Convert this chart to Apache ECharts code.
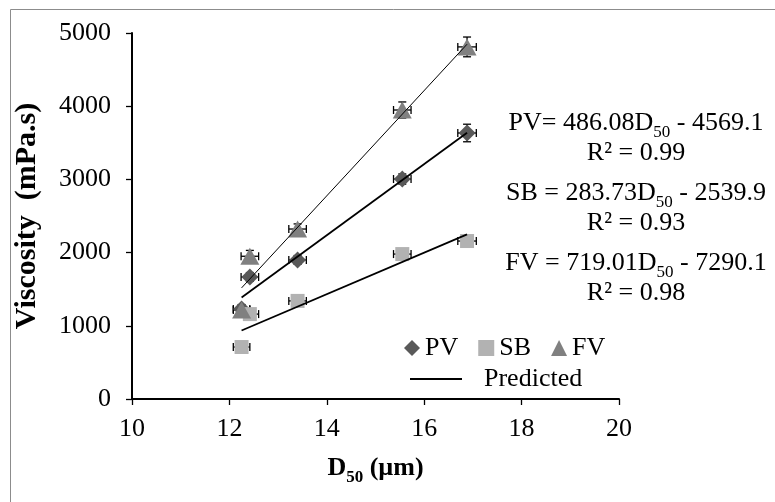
<!DOCTYPE html>
<html>
<head>
<meta charset="utf-8">
<script src="https://cdn.jsdelivr.net/npm/echarts@6/dist/echarts.min.js"></script>
<style>
  html, body { margin: 0; padding: 0; background: #fff; }
  #main { width: 775px; height: 502px; }
</style>
</head>
<body>
<div id="main"></div>
<script>
// 数据
var xVals = [12.25, 12.42, 13.4, 15.55, 16.88];
var pvVals = [1230, 1667, 1900, 3005, 3634];
var sbVals = [710, 1160, 1340, 1980, 2158];
var fvVals = [1216, 1950, 2322, 3948, 4810];
var xErr = [0.17, 0.18, 0.18, 0.18, 0.19];
var pvErr = [60, 60, 60, 70, 120];
var sbErr = [40, 40, 40, 40, 50];
var fvErr = [60, 80, 70, 110, 135];
// 拟合直线（图中公式）
var fitSlope = [486.08, 283.73, 719.01];
var fitIntercept = [-4569.1, -2539.9, -7290.1];
var fitR2 = ['0.99', '0.93', '0.98'];
var eqLabels = ['PV= 486.08D', 'SB = 283.73D', 'FV = 719.01D'];
var eqTails = [' - 4569.1', ' - 2539.9', ' - 7290.1'];

var FONT = '"Liberation Serif", "Times New Roman", serif';

function pairs(ys) {
  return xVals.map(function (x, i) { return [x, ys[i]]; });
}
function errData(ys, ey) {
  return xVals.map(function (x, i) { return [x, ys[i], xErr[i], ey[i]]; });
}
function fitLine(k) {
  var x0 = xVals[0], x1 = xVals[xVals.length - 1];
  return [[x0, fitSlope[k] * x0 + fitIntercept[k]], [x1, fitSlope[k] * x1 + fitIntercept[k]]];
}

function renderErr(params, api) {
  var x = api.value(0), y = api.value(1), ex = api.value(2), ey = api.value(3);
  var l = api.coord([x - ex, y]), r = api.coord([x + ex, y]);
  var t = api.coord([x, y + ey]), b = api.coord([x, y - ey]);
  var cap = 4;
  var st = { stroke: '#000', lineWidth: 1.3 };
  function ln(x1, y1, x2, y2) {
    return { type: 'line', shape: { x1: x1, y1: y1, x2: x2, y2: y2 }, style: st };
  }
  return {
    type: 'group',
    children: [
      ln(l[0], l[1], r[0], r[1]),
      ln(l[0], l[1] - cap, l[0], l[1] + cap),
      ln(r[0], r[1] - cap, r[0], r[1] + cap),
      ln(t[0], t[1], b[0], b[1]),
      ln(t[0] - cap, t[1], t[0] + cap, t[1]),
      ln(b[0] - cap, b[1], b[0] + cap, b[1])
    ]
  };
}

// 下标：用 padding 把小字往下压
var subRich = {
  n: { fontFamily: FONT, fontSize: 26, color: '#000', lineHeight: 26, verticalAlign: 'top' },
  s: { fontFamily: FONT, fontSize: 17, color: '#000', lineHeight: 17, verticalAlign: 'top', padding: [14, 0, 0, 0] }
};

var eqY = [123, 193, 263];
var graphics = [{
  type: 'rect', left: 8, top: 7, silent: true,
  shape: { x: 0, y: 0, width: 800, height: 600 },
  style: { fill: 'none', stroke: '#8c8c8c', lineWidth: 1 }
}];
for (var k = 0; k < 3; k++) {
  graphics.push({
    type: 'text', x: 636, y: eqY[k],
    style: {
      text: '{n|' + eqLabels[k] + '}{s|50}{n|' + eqTails[k] + '}',
      rich: subRich, align: 'center', verticalAlign: 'middle'
    }
  });
  graphics.push({
    type: 'text', x: 636, y: eqY[k] + 30,
    style: {
      text: 'R² = ' + fitR2[k], font: '26px ' + FONT, fill: '#000',
      align: 'center', verticalAlign: 'middle'
    }
  });
}

var myChart = echarts.init(document.getElementById('main'));
var option = {
  backgroundColor: '#fff',
  animation: false,
  grid: { left: 132, top: 33, width: 487, height: 366, containLabel: false },
  xAxis: {
    type: 'value', min: 10, max: 20, interval: 2,
    name: '{b|D}{s|50}{b| (µm)}',
    nameLocation: 'middle', nameGap: 56,
    nameTextStyle: {
      rich: {
        b: { fontFamily: FONT, fontSize: 26, fontWeight: 'bold', color: '#000', lineHeight: 26, verticalAlign: 'top' },
        s: { fontFamily: FONT, fontSize: 17, fontWeight: 'bold', color: '#000', lineHeight: 17, verticalAlign: 'top', padding: [14, 0, 0, 0] }
      }
    },
    axisLine: { lineStyle: { color: '#000', width: 2 } },
    axisTick: { inside: false, length: 6, lineStyle: { color: '#000', width: 1.3 } },
    axisLabel: { fontFamily: FONT, fontSize: 26, color: '#000', margin: 17 },
    splitLine: { show: false }
  },
  yAxis: {
    type: 'value', min: 0, max: 5000, interval: 1000,
    name: 'Viscosity  (mPa.s)',
    nameLocation: 'middle', nameGap: 90,
    nameTextStyle: { fontFamily: FONT, fontSize: 30, fontWeight: 'bold', color: '#000' },
    axisLine: { show: true, lineStyle: { color: '#000', width: 2 } },
    axisTick: { show: true, inside: false, length: 6, lineStyle: { color: '#000', width: 1.3 } },
    axisLabel: { fontFamily: FONT, fontSize: 26, color: '#000', margin: 21, formatter: function (v) { return String(v); } },
    splitLine: { show: false }
  },
  legend: [{
    data: ['PV', 'SB', 'FV'],
    left: 399, top: 330, orient: 'horizontal',
    itemWidth: 16, itemHeight: 16, itemGap: 20,
    textStyle: { fontFamily: FONT, fontSize: 26, color: '#000' },
    selectedMode: false
  }, {
    data: [{ name: 'Predicted', icon: 'rect' }],
    left: 405, top: 361,
    itemWidth: 52, itemHeight: 2,
    textStyle: { fontFamily: FONT, fontSize: 26, color: '#000', padding: [0, 0, 0, 17] },
    selectedMode: false
  }],
  graphic: graphics,
  series: [
    { name: 'PV err', type: 'custom', renderItem: renderErr, data: errData(pvVals, pvErr), encode: { x: 0, y: 1 }, z: 1, silent: true },
    { name: 'SB err', type: 'custom', renderItem: renderErr, data: errData(sbVals, sbErr), encode: { x: 0, y: 1 }, z: 1, silent: true },
    { name: 'FV err', type: 'custom', renderItem: renderErr, data: errData(fvVals, fvErr), encode: { x: 0, y: 1 }, z: 1, silent: true },
    { name: 'PV', type: 'scatter', symbol: 'diamond', symbolSize: [17, 17], data: pairs(pvVals), itemStyle: { color: '#595959', opacity: 1 }, z: 2 },
    { name: 'SB', type: 'scatter', symbol: 'rect', symbolSize: [14, 14], data: pairs(sbVals), itemStyle: { color: '#b2b2b2', opacity: 1 }, z: 3 },
    { name: 'FV', type: 'scatter', symbol: 'triangle', symbolSize: [19, 17], data: pairs(fvVals), itemStyle: { color: '#808080', opacity: 1 }, z: 4 },
    { name: 'Predicted', type: 'line', data: fitLine(0), symbol: 'none', lineStyle: { color: '#000', width: 1.8 }, itemStyle: { color: '#000' }, z: 5 },
    { name: 'Predicted', type: 'line', data: fitLine(1), symbol: 'none', lineStyle: { color: '#000', width: 1.8 }, itemStyle: { color: '#000' }, z: 5 },
    { name: 'Predicted', type: 'line', data: fitLine(2), symbol: 'none', lineStyle: { color: '#000', width: 1 }, itemStyle: { color: '#000' }, z: 5 }
  ]
};
myChart.setOption(option);
</script>
</body>
</html>
